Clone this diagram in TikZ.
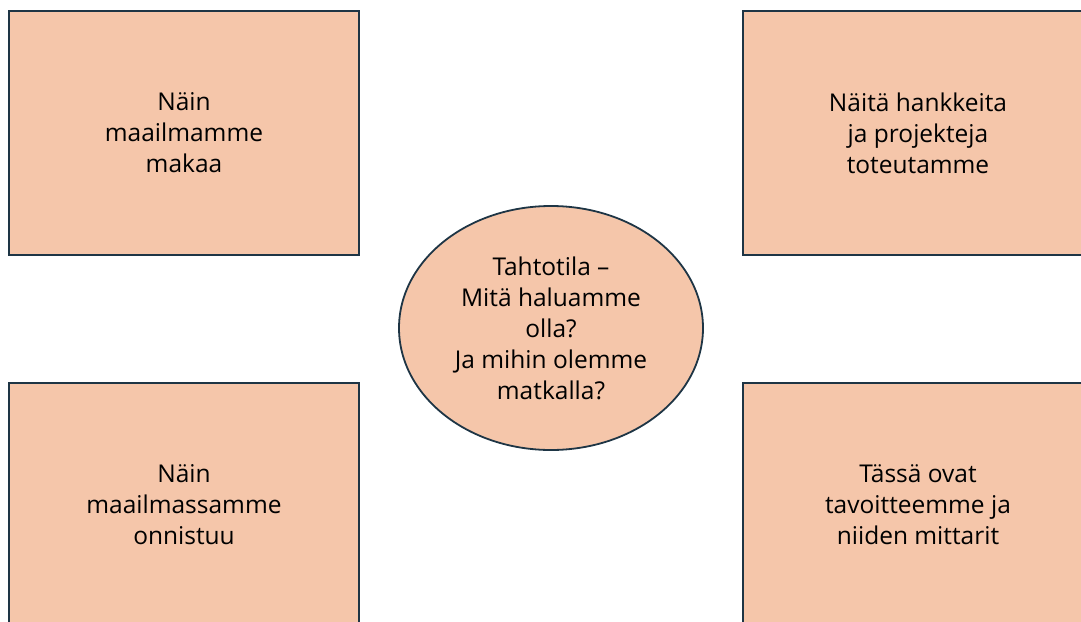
\documentclass[tikz,border=0pt]{standalone}
\usepackage{fontspec}
\setmainfont{Open Sans}
\usetikzlibrary{shapes.geometric}
\usepackage{xcolor}
\definecolor{peach}{HTML}{F5C6AA}
\definecolor{navy}{HTML}{1E3545}

\tikzset{
  box/.style={rectangle,draw=navy,fill=peach,line width=1.8pt,minimum width=350pt,minimum height=244pt,align=center,font=\fontsize{24.5}{31}\selectfont},
  goal/.style={ellipse,draw=navy,fill=peach,line width=1.8pt,minimum width=304pt,minimum height=244pt,inner sep=0pt,align=center,font=\fontsize{24.5}{31}\selectfont}
}

\begin{document}
\begin{tikzpicture}[x=1pt,y=-1pt]
  \useasboundingbox (0,0) rectangle (1081,621);
  \clip (0,0) rectangle (1081,621);

  \node[box] (now) at (184,133) {Näin\\maailmamme\\makaa};
  \node[box] (projects) at (918,133) {Näitä hankkeita\\ja projekteja\\toteutamme};
  \node[box] (success) at (184,505) {Näin\\maailmassamme\\onnistuu};
  \node[box] (targets) at (918,505) {Tässä ovat\\tavoitteemme ja\\niiden mittarit};

  \node[goal] (vision) at (551,328) {Tahtotila –\\Mitä haluamme\\olla?\\Ja mihin olemme\\matkalla?};
\end{tikzpicture}
\end{document}
